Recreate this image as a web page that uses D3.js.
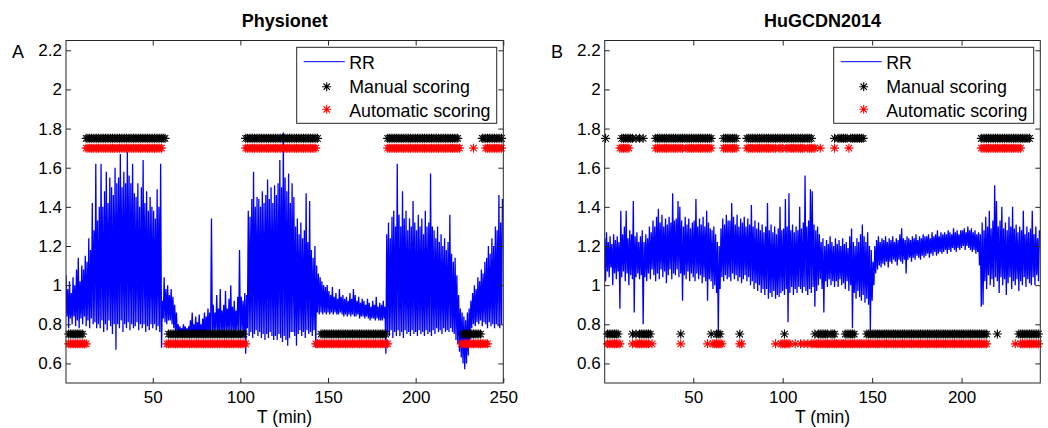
<!DOCTYPE html>
<html><head><meta charset="utf-8">
<script src="https://cdn.jsdelivr.net/npm/d3@7"></script>
<style>body{margin:0;background:#fff}text{font-family:Arial,"Liberation Sans",sans-serif;fill:#000}</style>
</head><body><svg id="c" width="1048" height="428"></svg>
<script>
// ---------- data ----------
const yTicks = [0.6, 0.8, 1, 1.2, 1.4, 1.6, 1.8, 2, 2.2];
const xTicksA = [50, 100, 150, 200, 250];
const xTicksB = [50, 100, 150, 200];
const legendLabels = ["RR", "Manual scoring", "Automatic scoring"];
const titles = ["Physionet", "HuGCDN2014"];
const panelLetters = ["A", "B"];
const xLabel = "T (min)";
const scoreLevels = {manualApnea: 1.75, autoApnea: 1.7, manualNormal: 0.75, autoNormal: 0.7};

// RR per minute: upper and lower excursions (s), panel A (min 0..249)
const rrHiA = [
1.05,0.98,1.02,0.96,1.04,1.00,1.08,1.14,1.02,1.10,
1.08,1.15,1.12,1.24,1.18,1.42,1.28,1.62,1.33,1.40,
1.62,1.40,1.48,1.58,1.42,1.55,1.50,1.46,1.60,1.52,
1.55,1.67,1.50,1.58,1.52,1.68,1.56,1.52,1.62,1.47,
1.45,1.52,1.40,1.50,1.64,1.42,1.48,1.38,1.45,1.40,
1.38,1.34,1.49,1.40,1.62,0.92,1.04,0.98,1.00,0.95,
0.98,0.94,0.90,0.86,0.80,0.79,0.78,0.80,0.79,0.78,
0.79,0.82,0.86,0.80,0.84,0.81,0.85,0.80,0.83,0.86,
0.84,0.88,0.86,1.34,0.90,0.86,0.95,0.88,0.98,0.87,
0.90,0.97,0.88,0.93,1.00,0.89,0.92,0.87,0.94,1.18,
0.94,0.92,0.96,0.95,1.38,1.35,1.44,1.58,1.40,1.45,
1.44,1.40,1.48,1.42,1.46,1.54,1.44,1.50,1.42,1.51,
1.46,1.52,1.64,1.50,1.78,1.55,1.48,1.57,1.42,1.52,
1.45,1.30,1.34,1.26,1.32,1.24,1.28,1.47,1.22,1.43,
1.18,1.14,1.20,1.10,1.06,1.04,1.02,1.00,0.99,1.00,
0.97,0.95,0.99,0.94,0.96,0.93,0.98,0.94,0.95,0.93,
0.94,0.92,0.96,0.93,0.98,0.95,0.92,0.94,0.91,0.93,
0.92,0.90,0.93,0.91,0.89,0.92,0.90,0.94,0.89,0.91,
0.90,0.92,0.89,1.26,1.32,1.24,1.35,1.38,1.30,1.62,
1.36,1.30,1.48,1.34,1.38,1.28,1.34,1.30,1.43,1.32,
1.28,1.36,1.30,1.34,1.26,1.38,1.30,1.32,1.57,1.30,
1.28,1.24,1.30,1.22,1.26,1.20,1.24,1.18,1.22,1.36,
1.16,1.12,1.14,1.05,0.95,0.88,0.86,0.84,0.82,0.86,
0.88,0.92,0.96,1.00,0.98,1.04,1.02,1.08,1.06,1.12,
1.14,1.20,1.16,1.24,1.20,1.30,1.28,1.46,1.32,1.44];
const rrLoA = [
0.80,0.84,0.78,0.83,0.80,0.84,0.79,0.82,0.78,0.83,
0.80,0.84,0.79,0.82,0.78,0.83,0.80,0.81,0.78,0.80,
0.78,0.82,0.76,0.80,0.77,0.82,0.79,0.75,0.80,0.67,
0.80,0.78,0.82,0.76,0.80,0.78,0.81,0.77,0.80,0.78,
0.79,0.81,0.77,0.80,0.78,0.80,0.76,0.79,0.77,0.80,
0.78,0.80,0.77,0.79,0.76,0.68,0.83,0.81,0.80,0.82,
0.82,0.80,0.78,0.76,0.75,0.74,0.75,0.74,0.75,0.74,
0.74,0.75,0.74,0.75,0.74,0.75,0.74,0.75,0.74,0.75,
0.74,0.75,0.76,0.74,0.76,0.75,0.77,0.75,0.76,0.75,
0.76,0.75,0.77,0.76,0.75,0.77,0.76,0.75,0.77,0.76,
0.76,0.77,0.75,0.65,0.78,0.74,0.76,0.73,0.75,0.77,
0.74,0.76,0.73,0.75,0.72,0.75,0.73,0.76,0.74,0.72,
0.74,0.72,0.75,0.73,0.71,0.74,0.72,0.69,0.73,0.76,
0.76,0.74,0.69,0.75,0.77,0.74,0.76,0.73,0.77,0.75,
0.76,0.74,0.77,0.68,0.86,0.85,0.86,0.85,0.86,0.85,
0.86,0.85,0.86,0.85,0.86,0.85,0.85,0.86,0.85,0.84,
0.85,0.84,0.85,0.84,0.85,0.84,0.84,0.85,0.83,0.84,
0.84,0.83,0.84,0.83,0.82,0.83,0.83,0.82,0.83,0.82,
0.82,0.82,0.83,0.65,0.76,0.74,0.77,0.73,0.76,0.74,
0.77,0.74,0.76,0.73,0.77,0.75,0.76,0.74,0.77,0.75,
0.76,0.74,0.77,0.75,0.76,0.74,0.77,0.75,0.76,0.74,
0.77,0.75,0.78,0.76,0.77,0.75,0.78,0.76,0.77,0.76,
0.78,0.76,0.75,0.72,0.70,0.66,0.63,0.60,0.57,0.60,
0.64,0.72,0.78,0.80,0.79,0.81,0.80,0.82,0.79,0.81,
0.80,0.78,0.81,0.79,0.80,0.78,0.80,0.79,0.78,0.80];

// panel B (min 0..243)
const rrHiB = [
1.24,1.27,1.22,1.25,1.21,1.26,1.23,1.25,1.22,1.38,
1.26,1.30,1.38,1.24,1.28,1.26,1.43,1.25,1.27,1.22,
1.25,1.28,1.22,1.26,1.24,1.30,1.27,1.33,1.30,1.35,
1.39,1.32,1.36,1.30,1.34,1.31,1.35,1.32,1.47,1.33,
1.34,1.43,1.40,1.33,1.30,1.35,1.31,1.34,1.29,1.32,
1.33,1.44,1.30,1.34,1.31,1.35,1.30,1.38,1.32,1.29,
1.28,1.30,1.26,1.22,1.20,1.29,1.34,1.31,1.36,1.33,
1.33,1.42,1.35,1.31,1.36,1.30,1.34,1.32,1.35,1.30,
1.34,1.31,1.41,1.30,1.33,1.29,1.32,1.28,1.31,1.27,
1.30,1.42,1.28,1.31,1.27,1.30,1.26,1.29,1.40,1.28,
1.29,1.44,1.30,1.47,1.28,1.31,1.27,1.30,1.28,1.40,
1.29,1.32,1.56,1.30,1.33,1.49,1.48,1.31,1.28,1.30,
1.26,1.22,1.24,1.20,1.23,1.21,1.25,1.22,1.20,1.24,
1.21,1.23,1.20,1.24,1.21,1.22,1.19,1.25,1.29,1.22,
1.20,1.24,1.22,1.26,1.31,1.25,1.22,1.27,1.20,1.18,
1.12,1.20,1.23,1.25,1.22,1.24,1.23,1.25,1.22,1.24,
1.23,1.25,1.22,1.24,1.23,1.26,1.29,1.24,1.23,1.25,
1.24,1.23,1.25,1.24,1.26,1.23,1.25,1.24,1.26,1.25,
1.25,1.26,1.24,1.27,1.25,1.26,1.28,1.25,1.27,1.26,
1.27,1.26,1.28,1.27,1.26,1.29,1.27,1.28,1.26,1.28,
1.28,1.29,1.27,1.30,1.28,1.29,1.27,1.28,1.26,1.27,
1.26,1.32,1.28,1.35,1.30,1.38,1.29,1.33,1.51,1.43,
1.30,1.33,1.40,1.29,1.32,1.28,1.35,1.30,1.40,1.29,
1.31,1.27,1.30,1.28,1.38,1.26,1.30,1.27,1.29,1.38,
1.26,1.30,1.24,1.28];
const rrLoB = [
1.08,1.02,1.07,1.04,1.09,1.00,1.06,1.03,1.07,0.88,
1.04,1.07,1.02,1.06,1.00,1.05,1.03,0.86,1.04,1.06,
1.03,1.05,0.80,1.04,1.02,1.06,1.03,1.08,1.05,1.02,
1.06,1.03,1.08,1.04,1.07,1.01,1.05,1.08,1.03,1.06,
1.05,1.08,1.04,1.06,0.92,1.05,1.03,1.07,1.02,1.06,
1.04,1.02,1.06,1.03,1.05,1.01,1.04,1.02,0.92,1.03,
1.02,0.98,1.00,0.96,0.76,0.98,1.04,1.02,1.05,1.03,
1.04,1.02,1.06,1.03,1.05,1.02,1.04,1.01,1.03,1.05,
1.02,1.04,1.00,1.02,0.98,1.01,0.97,1.00,0.96,0.98,
0.95,0.98,0.93,0.96,0.94,0.97,0.93,0.95,0.94,0.96,
0.97,0.95,0.98,0.81,0.96,0.99,0.95,0.98,0.96,0.99,
0.98,0.96,0.99,0.97,0.95,0.98,0.96,0.99,0.89,0.97,
1.00,1.03,0.98,0.86,1.02,0.99,1.03,1.00,1.02,0.99,
1.02,0.99,1.03,1.00,1.01,0.98,1.02,0.97,1.00,0.78,
0.96,0.93,0.97,0.94,0.92,0.95,0.91,0.93,0.90,0.77,
0.92,1.00,1.06,1.08,1.10,1.09,1.11,1.10,1.12,1.09,
1.12,1.11,1.13,1.12,1.10,1.13,1.12,1.11,1.13,1.06,
1.13,1.14,1.12,1.14,1.13,1.15,1.14,1.13,1.15,1.14,
1.15,1.16,1.14,1.16,1.15,1.17,1.15,1.16,1.17,1.16,
1.17,1.18,1.16,1.18,1.17,1.19,1.18,1.17,1.19,1.18,
1.19,1.20,1.18,1.20,1.19,1.18,1.17,1.18,1.16,1.17,
1.10,0.89,0.90,1.02,0.98,1.05,1.00,1.03,0.99,1.04,
1.02,0.96,1.04,1.00,1.03,0.95,1.01,1.04,0.98,1.02,
1.00,1.03,0.97,1.02,1.00,1.04,0.99,1.03,1.01,1.00,
1.04,1.00,1.05,1.02];

// per-minute scoring flags (1 = marker drawn), groups of 10 minutes
const manualApneaA  = "0000000000 0011111111 1111111111 1111111111 1111111111 1111111100 0000000000 0000000000 0000000000 0000000000 0001111111 1111111111 1111111111 1111111111 1111100000 0000000000 0000000000 0000000000 0000111111 1111111111 1111111111 1111111111 1111100000 0000000011 1111111111";
const manualNormalA = "0011111111 1000000000 0000000000 0000000000 0000000000 0000000001 1111111111 1111111111 1111111111 1111111111 1110000000 0000000000 0000000000 0000000000 0000001111 1111111111 1111111111 1111111111 1111000000 0000000000 0000000000 0000000000 0000000111 1111111100 0000000000";
const autoApneaA    = "0000000000 0011111111 1111111111 1111111111 1111111111 1111110000 0000000000 0000000000 0000000000 0000000000 0001111111 1111111111 1111111111 1111111111 1111000000 0000000000 0000000000 0000000000 0000111111 1111111111 1111111111 1111111111 1111110000 0001000000 1111111111";
const autoNormalA   = "0011111111 1110000000 0000000000 0000000000 0000000000 0000000011 1111111111 1111111111 1111111111 1111111111 1111000000 0000000000 0000000000 0000000000 0001111111 1111111111 1111111111 1111111111 1111100000 0000000000 0000000000 0000000000 0000001111 1111111111 1100000000";
const manualApneaB  = "0100000000 1111111010 1010000001 1111111111 1111111111 1111111111 1000000111 1111100000 1111111111 1111111111 1111111111 1111111000 0000000001 0111111011 1111110000 0000000000 0000000000 0000000000 0000000000 0000000000 0000000000 0111111111 1111111111 1111111110 0000";
const autoApneaB    = "0000000001 1111100000 0000000001 1111111111 1111101111 1111111111 1000000111 1111100000 1111111111 1111111011 1011111111 1110111110 0100000001 0000000100 0000000000 0000000000 0000000000 0000000000 0000000000 0000000000 0000000000 0111111111 1111111111 1111000000 0000";
const manualNormalB = "0011111110 0000001010 1111111000 0000000000 0001000000 0000000000 1001110000 0000001000 0000000000 0000000000 0100000000 0000000010 1111110111 0000011111 1000000111 1111111111 1111111111 1111111111 1111111111 1111111111 1111111111 1111100000 1000000000 0011111111 1111";
const autoNormalB   = "0011111111 0000001011 1111110100 0000000000 0001000000 0000000010 0111111000 0000001100 0000000000 0000001001 1111100100 1010101111 1111111111 1111111111 1111111111 1111111111 1111111111 1111111111 1111111111 1111111111 1111111111 1111100000 0000000000 1001111111 1111";

// ---------- drawing ----------
const svg = d3.select("#c");
const AX = "#262626";
const STAR = "M-4.5,0H4.5M0,-4.5V4.5M-3.2,-3.2L3.2,3.2M-3.2,3.2L3.2,-3.2";
const yTop = 40.5, yBottom = 383;

function minutes(s) {
  const out = [];
  s.replace(/\s/g, "").split("").forEach((c, i) => { if (c === "1") out.push(i); });
  return out;
}

function panel(cfg) {
  const x = d3.scaleLinear().domain(cfg.xDomain).range([cfg.left, cfg.right]);
  const y = d3.scaleLinear().domain([0.5, 2.25]).range([yBottom, yTop]);
  const g = svg.append("g");
  const cid = "clip" + cfg.letter;
  svg.append("clipPath").attr("id", cid).append("rect")
    .attr("x", cfg.left).attr("y", yTop).attr("width", cfg.right - cfg.left).attr("height", yBottom - yTop);

  // RR trace
  const pts = [];
  cfg.lo.forEach((v, i) => { pts.push([i, v]); pts.push([i + 0.5, cfg.hi[i]]); });
  g.append("path").attr("clip-path", `url(#${cid})`)
    .attr("d", d3.line().x(d => x(d[0])).y(d => y(d[1]))(pts))
    .attr("fill", "none").attr("stroke", "#0000ff").attr("stroke-width", 1.3)
    .attr("stroke-linejoin", "bevel");

  // score markers
  const rows = [
    [cfg.manualApnea, scoreLevels.manualApnea, "#000"],
    [cfg.manualNormal, scoreLevels.manualNormal, "#000"],
    [cfg.autoApnea, scoreLevels.autoApnea, "#ff0000"],
    [cfg.autoNormal, scoreLevels.autoNormal, "#ff0000"]
  ];
  rows.forEach(([s, lvl, col]) => {
    g.append("g").selectAll("path").data(minutes(s)).join("path")
      .attr("d", STAR).attr("transform", t => `translate(${x(t)},${y(lvl)})`)
      .attr("fill", "none").attr("stroke", col).attr("stroke-width", 1.1);
  });

  // axes box and ticks
  g.append("rect").attr("x", cfg.left).attr("y", yTop).attr("width", cfg.right - cfg.left).attr("height", yBottom - yTop)
    .attr("fill", "none").attr("stroke", AX).attr("stroke-width", 1);
  const style = sel => {
    sel.select(".domain").remove();
    sel.selectAll("line").attr("stroke", AX);
    sel.selectAll("text").attr("font-size", "17px").attr("fill", "#000").attr("font-family", "Arial, 'Liberation Sans', sans-serif");
  };
  g.append("g").attr("transform", `translate(0,${yBottom})`)
    .call(d3.axisBottom(x).tickValues(cfg.xTicks).tickSizeInner(-5).tickSizeOuter(0).tickPadding(8).tickFormat(d => String(d))).call(style);
  g.append("g").attr("transform", `translate(0,${yTop})`)
    .call(d3.axisTop(x).tickValues(cfg.xTicks).tickSizeInner(-5).tickSizeOuter(0).tickFormat("")).call(style);
  g.append("g").attr("transform", `translate(${cfg.left},0)`)
    .call(d3.axisLeft(y).tickValues(yTicks).tickSizeInner(-5).tickSizeOuter(0).tickPadding(4).tickFormat(d => String(d))).call(style);
  g.append("g").attr("transform", `translate(${cfg.right},0)`)
    .call(d3.axisRight(y).tickValues(yTicks).tickSizeInner(-5).tickSizeOuter(0).tickFormat("")).call(style);

  // texts
  const cx = (cfg.left + cfg.right) / 2;
  g.append("text").attr("x", cx).attr("y", 26.7).attr("text-anchor", "middle")
    .attr("font-weight", "bold").attr("font-size", "18px").text(cfg.title);
  g.append("text").attr("x", cx).attr("y", 423).attr("text-anchor", "middle")
    .attr("font-size", "17.5px").text(xLabel);
  g.append("text").attr("x", cfg.letterX).attr("y", 57.5).attr("font-size", "18px").text(cfg.letter);

  // legend
  const lx = cfg.right - 206.6, ly = 47.3;
  const lg = g.append("g");
  lg.append("rect").attr("x", lx).attr("y", ly).attr("width", 200).attr("height", 76)
    .attr("fill", "#fff").attr("stroke", AX).attr("stroke-width", 1);
  lg.append("line").attr("x1", lx + 7).attr("x2", lx + 48).attr("y1", ly + 14.4).attr("y2", ly + 14.4)
    .attr("stroke", "#0000ff").attr("stroke-width", 1);
  lg.append("path").attr("d", STAR).attr("transform", `translate(${lx + 30},${ly + 39.4})`)
    .attr("fill", "none").attr("stroke", "#000").attr("stroke-width", 1.1);
  lg.append("path").attr("d", STAR).attr("transform", `translate(${lx + 30},${ly + 62})`)
    .attr("fill", "none").attr("stroke", "#ff0000").attr("stroke-width", 1.1);
  [22, 46, 69.4].forEach((dy, i) => {
    lg.append("text").attr("x", lx + 52.5).attr("y", ly + dy).attr("font-size", "17.8px").text(legendLabels[i]);
  });
}

panel({letter: panelLetters[0], letterX: 12, title: titles[0], xDomain: [0.5, 250], left: 66, right: 503.3,
  xTicks: xTicksA, hi: rrHiA, lo: rrLoA,
  manualApnea: manualApneaA, manualNormal: manualNormalA, autoApnea: autoApneaA, autoNormal: autoNormalA});
panel({letter: panelLetters[1], letterX: 551, title: titles[1], xDomain: [0.5, 244], left: 604.7, right: 1040.3,
  xTicks: xTicksB, hi: rrHiB, lo: rrLoB,
  manualApnea: manualApneaB, manualNormal: manualNormalB, autoApnea: autoApneaB, autoNormal: autoNormalB});
</script></body></html>
